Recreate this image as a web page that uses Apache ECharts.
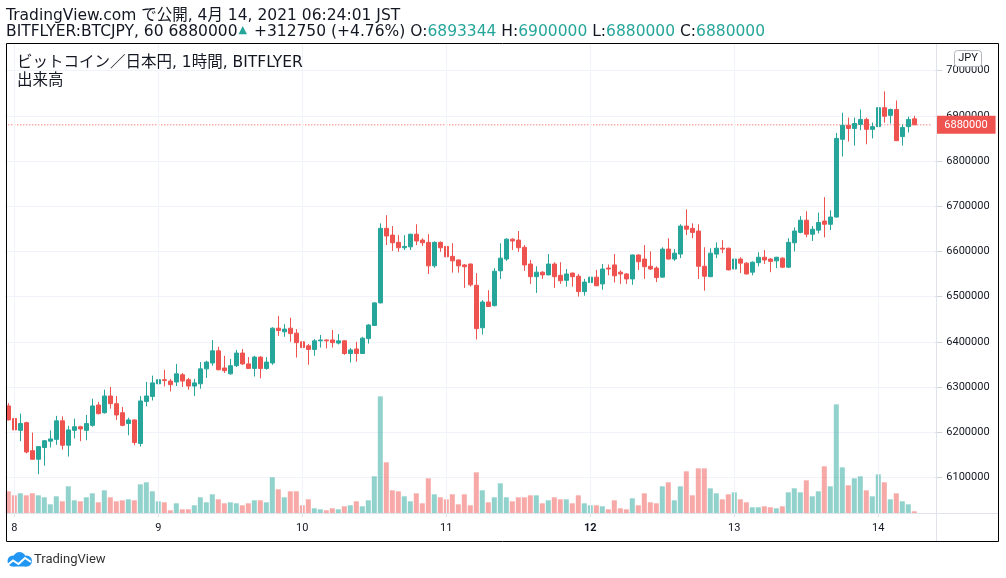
<!DOCTYPE html>
<html>
<head>
<meta charset="utf-8">
<title>BITFLYER:BTCJPY 60</title>
<script src="https://cdn.jsdelivr.net/npm/echarts@6/dist/echarts.min.js"></script>
<style>
  html, body { margin: 0; padding: 0; background: #fff; }
  #main { width: 1006px; height: 578px; }
</style>
</head>
<body>
<div id="main"></div>
<script>
  // 1時間足 2021-04-07 23:00 〜 2021-04-14 06:00 (JST)、右側に空きが3本
  var startDay = 7, startHour = 23, slots = 155;
  var prevClose = 6567250;   // 前日終値 (+312750 / +4.76%)

  var opens = [
    6258000, 6230000, 6204000, 6221000, 6159000, 6140000, 6166000, 6180000, 6184000, 6225000,
    6171000, 6204000, 6212000, 6204000, 6215000, 6260000, 6243000, 6280000, 6263000, 6243000,
    6219000, 6227000, 6175000, 6268000, 6279000, 6307000, 6316000, 6313000, 6311000, 6327000,
    6316000, 6302000, 6307000, 6340000, 6353000, 6380000, 6342000, 6329000, 6347000, 6375000,
    6351000, 6341000, 6366000, 6341000, 6353000, 6430000, 6422000, 6430000, 6419000, 6400000,
    6391000, 6383000, 6402000, 6404000, 6404000, 6397000, 6402000, 6374000, 6384000, 6374000,
    6407000, 6436000, 6486000, 6651000, 6636000, 6620000, 6608000, 6610000, 6638000, 6625000,
    6620000, 6568000, 6620000, 6611000, 6589000, 6581000, 6570000, 6572000, 6525000, 6431000,
    6488000, 6480000, 6557000, 6583000, 6627000, 6625000, 6609000, 6572000, 6544000, 6554000,
    6548000, 6572000, 6547000, 6536000, 6552000, 6545000, 6511000, 6531000, 6543000, 6528000,
    6563000, 6570000, 6554000, 6550000, 6539000, 6592000, 6583000, 6567000, 6563000, 6543000,
    6605000, 6583000, 6594000, 6656000, 6651000, 6645000, 6567000, 6544000, 6594000, 6607000,
    6607000, 6561000, 6583000, 6574000, 6554000, 6575000, 6587000, 6583000, 6579000, 6585000,
    6565000, 6619000, 6642000, 6669000, 6638000, 6647000, 6667000, 6660000, 6676000, 6848000,
    6879000, 6872000, 6881000, 6892000, 6870000, 6876000, 6918000, 6901000, 6914000, 6854000,
    6876000, 6893344
  ];
  var highs = [
    6264000, 6252000, 6241000, 6223000, 6199000, 6169000, 6182000, 6204000, 6236000, 6235000,
    6214000, 6230000, 6214000, 6238000, 6274000, 6267000, 6294000, 6300000, 6280000, 6256000,
    6232000, 6228000, 6280000, 6311000, 6325000, 6329000, 6338000, 6318000, 6351000, 6331000,
    6320000, 6318000, 6355000, 6358000, 6404000, 6389000, 6369000, 6362000, 6382000, 6384000,
    6366000, 6369000, 6368000, 6366000, 6432000, 6457000, 6439000, 6453000, 6428000, 6402000,
    6395000, 6406000, 6415000, 6405000, 6426000, 6417000, 6403000, 6386000, 6400000, 6411000,
    6439000, 6488000, 6662000, 6680000, 6656000, 6636000, 6636000, 6639000, 6660000, 6629000,
    6638000, 6622000, 6622000, 6616000, 6618000, 6582000, 6572000, 6573000, 6552000, 6492000,
    6514000, 6563000, 6618000, 6629000, 6629000, 6645000, 6614000, 6581000, 6567000, 6556000,
    6594000, 6576000, 6576000, 6561000, 6553000, 6550000, 6539000, 6563000, 6559000, 6572000,
    6571000, 6594000, 6558000, 6552000, 6593000, 6593000, 6614000, 6600000, 6567000, 6609000,
    6629000, 6605000, 6660000, 6693000, 6662000, 6660000, 6609000, 6607000, 6620000, 6625000,
    6608000, 6592000, 6587000, 6576000, 6578000, 6598000, 6603000, 6585000, 6588000, 6587000,
    6629000, 6653000, 6678000, 6689000, 6656000, 6686000, 6720000, 6691000, 6862000, 6907000,
    6896000, 6896000, 6914000, 6896000, 6885000, 6943000, 6954000, 6916000, 6934000, 6881000,
    6898000, 6900000
  ];
  var lows = [
    6226000, 6193000, 6180000, 6153000, 6139000, 6107000, 6126000, 6166000, 6172000, 6161000,
    6146000, 6186000, 6180000, 6182000, 6212000, 6239000, 6241000, 6252000, 6227000, 6213000,
    6193000, 6171000, 6168000, 6257000, 6270000, 6299000, 6301000, 6290000, 6302000, 6300000,
    6294000, 6280000, 6296000, 6320000, 6347000, 6337000, 6331000, 6327000, 6344000, 6349000,
    6340000, 6323000, 6319000, 6338000, 6349000, 6413000, 6411000, 6400000, 6365000, 6374000,
    6349000, 6369000, 6387000, 6385000, 6387000, 6394000, 6371000, 6354000, 6356000, 6373000,
    6396000, 6435000, 6485000, 6614000, 6601000, 6599000, 6603000, 6603000, 6614000, 6612000,
    6550000, 6564000, 6599000, 6572000, 6553000, 6553000, 6519000, 6522000, 6405000, 6416000,
    6477000, 6478000, 6539000, 6579000, 6603000, 6599000, 6557000, 6528000, 6508000, 6539000,
    6547000, 6519000, 6528000, 6522000, 6522000, 6500000, 6502000, 6530000, 6523000, 6515000,
    6547000, 6531000, 6528000, 6528000, 6526000, 6559000, 6539000, 6559000, 6532000, 6542000,
    6582000, 6579000, 6585000, 6636000, 6629000, 6539000, 6513000, 6543000, 6585000, 6596000,
    6558000, 6539000, 6552000, 6549000, 6547000, 6567000, 6572000, 6554000, 6563000, 6563000,
    6563000, 6600000, 6640000, 6631000, 6623000, 6640000, 6631000, 6647000, 6675000, 6810000,
    6843000, 6834000, 6868000, 6837000, 6850000, 6875000, 6885000, 6883000, 6844000, 6834000,
    6863000, 6880000
  ];
  var closes = [
    6227000, 6205000, 6219000, 6156000, 6140000, 6168000, 6181000, 6185000, 6225000, 6171000,
    6205000, 6212000, 6207000, 6219000, 6258000, 6241000, 6280000, 6263000, 6238000, 6215000,
    6227000, 6177000, 6269000, 6280000, 6309000, 6316000, 6314000, 6305000, 6329000, 6313000,
    6302000, 6309000, 6340000, 6355000, 6380000, 6338000, 6336000, 6347000, 6375000, 6351000,
    6341000, 6366000, 6341000, 6355000, 6430000, 6425000, 6428000, 6418000, 6398000, 6387000,
    6383000, 6402000, 6404000, 6402000, 6398000, 6402000, 6374000, 6382000, 6374000, 6408000,
    6437000, 6486000, 6651000, 6634000, 6619000, 6608000, 6611000, 6638000, 6623000, 6619000,
    6568000, 6620000, 6608000, 6588000, 6579000, 6568000, 6566000, 6526000, 6429000, 6488000,
    6478000, 6556000, 6585000, 6627000, 6623000, 6608000, 6570000, 6544000, 6554000, 6548000,
    6572000, 6544000, 6535000, 6550000, 6544000, 6511000, 6532000, 6543000, 6524000, 6561000,
    6561000, 6546000, 6550000, 6539000, 6592000, 6577000, 6566000, 6561000, 6542000, 6605000,
    6583000, 6596000, 6656000, 6649000, 6642000, 6567000, 6545000, 6596000, 6607000, 6605000,
    6559000, 6583000, 6574000, 6550000, 6576000, 6587000, 6581000, 6578000, 6587000, 6565000,
    6620000, 6645000, 6669000, 6638000, 6649000, 6664000, 6660000, 6676000, 6850000, 6879000,
    6872000, 6883000, 6892000, 6870000, 6876000, 6918000, 6899000, 6914000, 6845000, 6874000,
    6892000, 6880000
  ];
  // 出来高 (目盛なし、相対値)
  var volumes = [
    220, 180, 200, 180, 200, 180, 160, 90, 170, 120,
    270, 130, 120, 160, 200, 110, 230, 160, 120, 130,
    140, 130, 290, 310, 220, 120, 110, 30, 100, 40,
    40, 80, 160, 110, 190, 140, 100, 110, 100, 80,
    100, 130, 130, 110, 360, 240, 160, 220, 220, 80,
    140, 50, 40, 30, 50, 40, 70, 80, 120, 70,
    130, 370, 1170, 510, 230, 220, 170, 120, 200, 100,
    350, 190, 160, 140, 190, 90, 190, 80, 410, 230,
    110, 160, 300, 160, 120, 160, 160, 180, 180, 100,
    130, 160, 140, 140, 100, 180, 100, 80, 80, 70,
    40, 130, 50, 40, 150, 80, 200, 110, 100, 270,
    310, 130, 270, 420, 180, 450, 450, 250, 200, 140,
    190, 210, 140, 110, 60, 60, 70, 60, 50, 70,
    210, 250, 210, 330, 170, 220, 470, 270, 1090, 460,
    280, 350, 370, 230, 170, 390, 310, 140, 200, 120,
    90, 20
  ];
  var weekStartDays = ['12'];

  var UP = '#26a69a', DOWN = '#ef5350';
  var UP_VOL = 'rgba(38,166,154,0.5)', DOWN_VOL = 'rgba(239,83,80,0.5)';
  var TXT = '#131722';
  var FONT = "Roboto, 'Noto Sans CJK JP', sans-serif";
  var FONT_H = "'DejaVu Sans', 'Noto Sans CJK JP', sans-serif";

  var categories = [];
  for (var i = 0; i < slots; i++) {
    var h = (startHour + i) % 24;
    var d = startDay + Math.floor((startHour + i) / 24);
    categories.push('4/' + d + ' ' + (h < 10 ? '0' + h : h) + ':00');
  }
  function isDayStart(idx, val) { return /00:00$/.test(val); }
  var dayLines = categories.filter(function (c, idx) { return isDayStart(idx, c); })
    .map(function (c) { return { xAxis: c }; });

  var candles = opens.map(function (o, k) { return [o, closes[k], lows[k], highs[k]]; });
  var volData = volumes.map(function (v, k) {
    return { value: v, itemStyle: { color: closes[k] >= opens[k] ? UP_VOL : DOWN_VOL } };
  });

  var last = opens.length - 1;
  var change = closes[last] - prevClose;
  var pct = (change / prevClose * 100).toFixed(2);
  var header2 = '{d|BITFLYER:BTCJPY, 60 ' + closes[last] + '}{u|▲}{d| +' + change + ' (+' + pct + '%) O:}' +
    '{g|' + opens[last] + '}{d| H:}{g|' + highs[last] + '}{d| L:}{g|' + lows[last] + '}{d| C:}{g|' + closes[last] + '}';

  var myChart = echarts.init(document.getElementById('main'));
  var option = {
    animation: false,
    backgroundColor: '#fff',
    title: [
      { left: 6, top: 7, padding: 0, text: 'TradingView.com で公開, 4月 14, 2021 06:24:01 JST',
        textStyle: { fontSize: 15.5, fontWeight: 'normal', color: TXT, fontFamily: FONT_H, lineHeight: 18 } },
      { left: 6, top: 23, padding: 0, text: header2,
        textStyle: { fontWeight: 'normal', lineHeight: 18, rich: {
          d: { fontSize: 15.5, fontWeight: 'normal', color: TXT, fontFamily: FONT_H },
          g: { fontSize: 15.5, fontWeight: 'normal', color: UP, fontFamily: FONT_H },
          u: { fontSize: 11, fontWeight: 'normal', color: UP, fontFamily: FONT_H, padding: [0, 2, 3, 1] }
        } } },
      { left: 17, top: 55, padding: 0, text: 'ビットコイン／日本円, 1時間, BITFLYER',
        textStyle: { fontSize: 15.5, fontWeight: 'normal', color: TXT, fontFamily: FONT_H, lineHeight: 16 } },
      { left: 17, top: 73, padding: 0, text: '出来高',
        textStyle: { fontSize: 15.5, fontWeight: 'normal', color: TXT, fontFamily: FONT_H, lineHeight: 16 } }
    ],
    grid: { left: 5.3, right: 70.7, top: 43.5, bottom: 64.7, containLabel: false, outerBoundsMode: 'none' },
    xAxis: {
      type: 'category',
      data: categories,
      boundaryGap: true,
      axisLine: { show: false },
      axisTick: { show: true, alignWithLabel: true, interval: isDayStart, length: 4, lineStyle: { color: '#e0e3eb' } },
      axisLabel: {
        interval: isDayStart,
        margin: 9,
        formatter: function (val) {
          var day = val.split(' ')[0].split('/')[1];
          return weekStartDays.indexOf(day) >= 0 ? '{b|' + day + '}' : '{n|' + day + '}';
        },
        rich: {
          n: { fontSize: 11, color: TXT, fontFamily: FONT },
          b: { fontSize: 11, color: TXT, fontFamily: FONT, fontWeight: 'bold' }
        }
      },
      splitLine: { show: false }
    },
    yAxis: [
      {
        type: 'value',
        position: 'right',
        scale: true,
        min: 6020400,
        max: 7060000,
        splitNumber: 10,
        minInterval: 100000,
        maxInterval: 100000,
        axisLine: { show: false },
        axisTick: { show: true, length: 7, lineStyle: { color: '#d1d4dc' } },
        axisLabel: {
          margin: 11,
          color: TXT,
          fontSize: 11,
          fontFamily: FONT,
          formatter: function (v) { return v % 100000 === 0 ? String(v) : ''; }
        },
        splitLine: { show: true, lineStyle: { color: '#f0f3fa', width: 1 } }
      },
      { type: 'value', min: 0, max: 4700, show: false, splitLine: { show: false } }
    ],
    series: [
      {
        name: '出来高',
        type: 'bar',
        yAxisIndex: 1,
        barWidth: 5,
        z: 2,
        data: volData,
        markLine: {
          silent: true,
          symbol: ['none', 'none'],
          label: { show: false },
          lineStyle: { color: '#f0f3fa', type: 'solid', width: 1 },
          emphasis: { disabled: true },
          data: dayLines
        }
      },
      {
        // 現在値ライン (点線) と右端の価格ラベル
        name: '現在値',
        type: 'line',
        z: 2,
        silent: true,
        symbol: 'none',
        color: DOWN,
        lineStyle: { color: DOWN, width: 1, type: [1, 2] },
        data: [[categories[0], closes[last]], [categories[slots - 1], closes[last]]],
        markLine: {
          silent: true,
          symbol: ['none', 'none'],
          lineStyle: { color: 'rgba(0,0,0,0)', width: 1 },
          emphasis: { disabled: true },
          label: {
            show: true, position: 'end', distance: 1,
            formatter: String(closes[last]),
            backgroundColor: DOWN, color: '#fff', fontSize: 11, fontFamily: FONT,
            padding: [3, 8, 2, 8], lineHeight: 13
          },
          data: [{ yAxis: closes[last] }]
        }
      },
      {
        name: 'BTCJPY',
        type: 'candlestick',
        barWidth: 4,
        z: 3,
        data: candles,
        itemStyle: { color: UP, color0: DOWN, borderColor: UP, borderColor0: DOWN, borderWidth: 1 }
      }
    ],
    graphic: [
      { type: 'line', z: 50, silent: true, shape: { x1: 936.5, y1: 43.5, x2: 936.5, y2: 541.5 }, style: { stroke: '#e0e3eb', lineWidth: 1 } },
      { type: 'line', z: 50, silent: true, shape: { x1: 6.5, y1: 513.5, x2: 998.5, y2: 513.5 }, style: { stroke: '#e0e3eb', lineWidth: 1 } },
      { type: 'rect', z: 60, silent: true, shape: { x: 954.5, y: 50.5, width: 27, height: 16, r: 3 }, style: { fill: '#fff', stroke: '#b2b5be', lineWidth: 1 } },
      { type: 'text', z: 61, silent: true, x: 968, y: 58.5,
        style: { text: 'JPY', fill: TXT, font: '11px ' + FONT, align: 'center', verticalAlign: 'middle', textAlign: 'center', textVerticalAlign: 'middle' } },
      { type: 'rect', z: 100, silent: true, shape: { x: 6.5, y: 43.5, width: 992, height: 498 }, style: { fill: 'none', stroke: '#000', lineWidth: 1 } },
      {
        type: 'group', x: 6, y: 552, silent: true, z: 60,
        children: [
          { type: 'circle', shape: { cx: 7, cy: 9, r: 5.5 }, style: { fill: '#2196f3' } },
          { type: 'circle', shape: { cx: 13.5, cy: 6.5, r: 6.5 }, style: { fill: '#2196f3' } },
          { type: 'circle', shape: { cx: 20.5, cy: 9, r: 5.5 }, style: { fill: '#2196f3' } },
          { type: 'rect', shape: { x: 7, y: 9, width: 13.5, height: 5.5 }, style: { fill: '#2196f3' } },
          { type: 'polyline', shape: { points: [[1.5, 13], [7, 8.5], [12.5, 12], [19, 6], [25, 10]] }, style: { stroke: '#fff', lineWidth: 2, fill: 'none' } }
        ]
      },
      { type: 'text', z: 60, silent: true, x: 34, y: 559.5,
        style: { text: 'TradingView', fill: '#333', font: '13px ' + FONT, verticalAlign: 'middle', textVerticalAlign: 'middle' } }
    ]
  };
  myChart.setOption(option);
</script>
</body>
</html>
